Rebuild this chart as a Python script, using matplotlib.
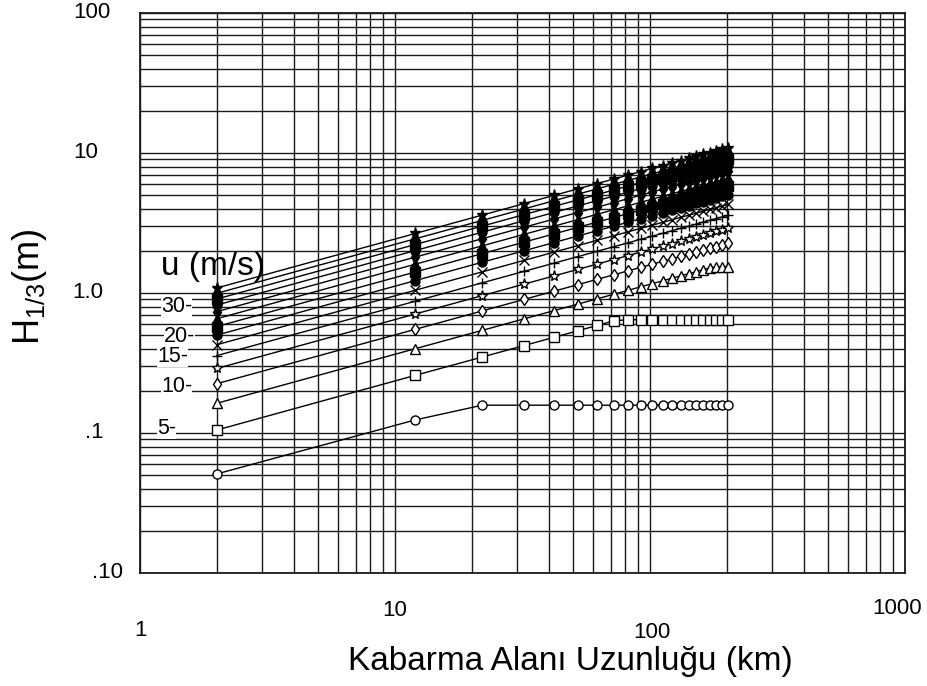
import matplotlib
matplotlib.use("Agg")
import matplotlib.pyplot as plt
from matplotlib.transforms import blended_transform_factory

plt.rcParams['font.family'] = ['Liberation Sans', 'DejaVu Sans']

# fetch length (km) and significant wave height (m) for each wind speed
fetch = [2, 12, 22, 32, 42, 52, 62, 72, 82, 92, 102, 112, 122, 132, 142, 152, 162, 172, 182, 192, 202]

h_2_5 = [0.051, 0.124, 0.158, 0.158, 0.158, 0.158, 0.158, 0.158, 0.158, 0.158, 0.158,
         0.158, 0.158, 0.158, 0.158, 0.158, 0.158, 0.158, 0.158, 0.158, 0.158]
h_5 = [0.105, 0.258, 0.349, 0.421, 0.482, 0.537, 0.586, 0.632, 0.645, 0.645, 0.645,
       0.645, 0.645, 0.645, 0.645, 0.645, 0.645, 0.645, 0.645, 0.645, 0.645]
h_7_5 = [0.163, 0.400, 0.541, 0.653, 0.748, 0.832, 0.909, 0.979, 1.045, 1.107, 1.166,
         1.221, 1.275, 1.326, 1.375, 1.423, 1.469, 1.51, 1.54, 1.54, 1.54]
h_10 = [0.225, 0.550, 0.745, 0.899, 1.030, 1.146, 1.251, 1.348, 1.439, 1.524, 1.605,
        1.681, 1.755, 1.825, 1.893, 1.959, 2.022, 2.084, 2.143, 2.201, 2.258]
h_12_5 = [0.289, 0.708, 0.958, 1.156, 1.324, 1.473, 1.609, 1.734, 1.850, 1.960, 2.063,
          2.162, 2.257, 2.347, 2.435, 2.519, 2.600, 2.679, 2.756, 2.831, 2.904]
h_15 = [0.357, 0.873, 1.183, 1.426, 1.634, 1.818, 1.985, 2.140, 2.283, 2.419, 2.547,
        2.669, 2.785, 2.897, 3.005, 3.109, 3.209, 3.307, 3.402, 3.494, 3.584]
h_17_5 = [0.427, 1.046, 1.416, 1.708, 1.957, 2.178, 2.378, 2.562, 2.735, 2.897, 3.050,
          3.196, 3.336, 3.469, 3.599, 3.723, 3.844, 3.960, 4.074, 4.184, 4.292]
h_20 = [0.500, 1.226, 1.659, 2.001, 2.293, 2.551, 2.786, 3.002, 3.204, 3.394, 3.573,
        3.744, 3.908, 4.065, 4.216, 4.362, 4.503, 4.640, 4.773, 4.903, 5.029]
h_22_5 = [0.576, 1.412, 1.912, 2.306, 2.642, 2.939, 3.209, 3.459, 3.691, 3.910, 4.117,
          4.314, 4.502, 4.683, 4.857, 5.025, 5.188, 5.346, 5.499, 5.648, 5.793]
h_25 = [0.655, 1.605, 2.173, 2.621, 3.002, 3.341, 3.648, 3.931, 4.195, 4.444, 4.679,
        4.903, 5.117, 5.323, 5.520, 5.712, 5.897, 6.076, 6.250, 6.419, 6.585]
h_27_5 = [0.736, 1.804, 2.443, 2.946, 3.375, 3.756, 4.101, 4.419, 4.716, 4.996, 5.260,
          5.512, 5.752, 5.984, 6.206, 6.421, 6.629, 6.830, 7.026, 7.216, 7.402]
h_30 = [0.820, 2.009, 2.720, 3.281, 3.759, 4.183, 4.567, 4.922, 5.252, 5.564, 5.858,
        6.138, 6.406, 6.664, 6.912, 7.151, 7.383, 7.607, 7.825, 8.037, 8.244]
h_32_5 = [0.906, 2.220, 3.006, 3.626, 4.154, 4.622, 5.046, 5.438, 5.803, 6.148, 6.473,
          6.783, 7.079, 7.363, 7.637, 7.902, 8.157, 8.405, 8.646, 8.880, 9.109]
h_35 = [0.995, 2.438, 3.301, 3.982, 4.562, 5.076, 5.542, 5.972, 6.374, 6.751, 7.109,
        7.449, 7.774, 8.087, 8.387, 8.678, 8.959, 9.231, 9.496, 9.753, 10.00]
h_37_5 = [1.086, 2.661, 3.602, 4.345, 4.978, 5.539, 6.048, 6.517, 6.955, 7.367, 7.757,
          8.129, 8.483, 8.824, 9.152, 9.470, 9.776, 10.07, 10.36, 10.64, 10.92]

wind = [2.5, 5, 7.5, 10, 12.5, 15, 17.5, 20, 22.5, 25, 27.5, 30, 32.5, 35, 37.5]
heights = [h_2_5, h_5, h_7_5, h_10, h_12_5, h_15, h_17_5, h_20, h_22_5, h_25,
           h_27_5, h_30, h_32_5, h_35, h_37_5]
markers = ['o', 's', '^', 'd', '*', '+', 'x', 'o', 's', '^', 'd', 'o', 's', 'd', '*']
filled = [False] * 7 + [True] * 8

wind_labels = ['30-', '20-', '15-', '10-', '5-']
ytick_vals = [100, 10, 1, 0.1, 0.01]
ytick_text = ['100', '10', '1.0', '.1', '.10']
xtick_vals = [1, 10, 100, 1000]
xtick_text = ['1', '10', '100', '1000']

W, H = 927, 686
fig = plt.figure(figsize=(W / 100, H / 100), dpi=100)
ax = fig.add_axes([140 / W, 1 - 573 / H, 765 / W, 560 / H])
ax.set_xscale('log')
ax.set_yscale('log')
ax.set_xlim(1, 1000)
ax.set_ylim(0.01, 100)

ax.grid(True, which='both', color='#1a1a1a', lw=1.0)
ax.set_axisbelow(True)
ax.tick_params(which='both', length=0, labelbottom=False, labelleft=False)
for sp in ax.spines.values():
    sp.set_color('#1a1a1a')
    sp.set_linewidth(1.3)

for u, h, m, f in zip(wind, heights, markers, filled):
    ax.plot(fetch, h, color='black', lw=1.0, marker=m, ms=8 if m == '*' else 6.5,
            mfc='black' if f else 'white', mec='black', mew=1.0, zorder=3)

# tick labels, staggered like the original
ty = blended_transform_factory(fig.transFigure, ax.transData)
ylab_x = [73, 73, 72, 85, 92]
for v, t, px in zip(ytick_vals, ytick_text, ylab_x):
    ax.text(px / W, v, t, transform=ty, ha='left', va='center', fontsize=16,
            clip_on=False)

tx = blended_transform_factory(fig.transFigure, fig.transFigure)
xlab_pos = [(140, 630), (395, 611), (652, 632), (897, 609)]
for t, (px, py) in zip(xtick_text, xlab_pos):
    ax.text(px / W, 1 - py / H, t, transform=tx, ha='center', va='center',
            fontsize=16, clip_on=False)

# wind speed labels
wl_pos = [(161, 307), (164, 337), (157, 356), (161, 386), (157, 428)]
for t, (px, py) in zip(wind_labels, wl_pos):
    fig.text(px / W, 1 - py / H, t, ha='left', va='center', fontsize=15.5,
             bbox=dict(facecolor='white', edgecolor='none', pad=0.0), zorder=5)

fig.text(161 / W, 1 - 266 / H, 'u (m/s)', ha='left', va='center', fontsize=24)
fig.text(30 / W, 1 - 287 / H, r'$\mathregular{H_{1/3}}$(m)', rotation=90,
         ha='center', va='center', fontsize=26)
fig.text(570 / W, 1 - 670 / H, 'Kabarma Alanı Uzunluğu (km)', ha='center',
         va='baseline', fontsize=24)

fig.savefig('out.png', dpi=100)
